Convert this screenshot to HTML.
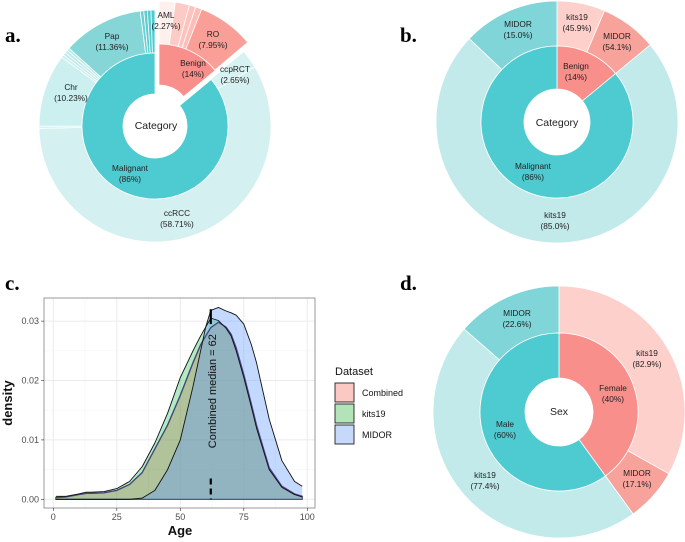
<!DOCTYPE html>
<html><head><meta charset="utf-8">
<style>
body{margin:0;background:#fff;}
svg{display:block;font-family:"Liberation Sans",sans-serif;}
.pl{font-family:"Liberation Serif",serif;font-weight:bold;font-size:21px;}
.lb{font-size:8.3px;fill:#222;text-anchor:middle;}
</style></head><body>
<svg id="fig" width="685" height="542" viewBox="0 0 685 542">
<text class="pl" x="5" y="42">a.</text>
<text class="pl" x="400" y="42">b.</text>
<text class="pl" x="5" y="290">c.</text>
<text class="pl" x="400" y="290">d.</text>
<g id="pa"></g>
<g id="pb"></g>
<g id="pd"></g>
<g id="pc"></g>
</svg>
<script>
const NS="http://www.w3.org/2000/svg";
// ---- panel a data
const aInnerLabels=["Benign","Malignant"];
const aInnerValues=[14,86];
const aOuterValues=[2.27,2.0,0.9,0.88,7.95,2.65,58.71,0.3,10.23,0.4,0.4,0.4,0.4,11.36,0.5,0.5,0.5,0.56];
const aOuterGroup=[0,0,0,0,0,1,1,1,1,1,1,1,1,1,1,1,1,1];
const aOuterColors=["#FFF0EE","#FDCBC6","#FDC3BE","#FDBDB8","#FA9F98","#D7F2F2","#D5F0F1","#CBEEEF","#CCEFEF","#CBEEEF","#BDE9EA","#BDE9EA","#BDE9EA","#86D6D8","#6FD0D3","#5ECDD1","#55CBD0","#4ECBD0"];
// ---- panel b data
const bInnerValues=[14,86];
const bOuterValues=[14*0.459,14*0.541,86*0.85,86*0.15];
// ---- panel d data
const dInnerValues=[40,60];
const dOuterValues=[40*0.829,40*0.171,60*0.774,60*0.226];
// ---- panel c data
const ages=[1,5,10,13,15,20,25,30,35,40,45,50,55,58,60,62,65,68,70,72,75,78,80,85,90,95,98];
const kits19=[0.0005,0.0005,0.0009,0.0012,0.0012,0.0013,0.0018,0.003,0.0055,0.0095,0.0145,0.0205,0.025,0.0275,0.029,0.0305,0.0301,0.0288,0.0275,0.025,0.0205,0.0155,0.012,0.005,0.002,0.0008,0.0004];
const combined=[0.0003,0.0004,0.0008,0.001,0.001,0.0011,0.0015,0.0025,0.0045,0.0085,0.0125,0.0175,0.023,0.026,0.0275,0.0289,0.0298,0.029,0.0278,0.0255,0.021,0.016,0.0125,0.0053,0.0022,0.0009,0.0005];
const midor=[0,0,0,0,0,0,0,0,0.0002,0.0015,0.005,0.01,0.019,0.025,0.029,0.0318,0.0323,0.0317,0.0314,0.031,0.0295,0.026,0.023,0.0135,0.0065,0.003,0.0022];
const xTicks=[0,25,50,75,100];
const yTicks=[0,0.01,0.02,0.03];
const yTickLabels=["0.00","0.01","0.02","0.03"];
const median=62;

function arcPath(cx,cy,r0,r1,a0,a1){
  const p=(r,a)=>[cx+r*Math.sin(a),cy-r*Math.cos(a)];
  const lg=(a1-a0)>Math.PI?1:0;
  const [x0,y0]=p(r1,a0),[x1,y1]=p(r1,a1),[x2,y2]=p(r0,a1),[x3,y3]=p(r0,a0);
  return `M${x0},${y0}A${r1},${r1} 0 ${lg} 1 ${x1},${y1}L${x2},${y2}A${r0},${r0} 0 ${lg} 0 ${x3},${y3}Z`;
}
function ring(g,cx,cy,r0,r1,vals,colors,name,offsets){
  const tot=vals.reduce((a,b)=>a+b,0);let a=0;
  vals.forEach((v,i)=>{
    const a0=a/tot*2*Math.PI,a1=(a+v)/tot*2*Math.PI;a+=v;
    const o=offsets?offsets[i]:[0,0];
    const p=document.createElementNS(NS,"path");
    p.setAttribute("d",arcPath(cx+o[0],cy+o[1],r0,r1,a0,a1));
    p.setAttribute("fill",colors[i]);p.setAttribute("stroke","#fff");p.setAttribute("stroke-width","0.8");
    
    
    g.appendChild(p);
  });
}
function labels(g,list,big){
  list.forEach(([t1,t2,x,y],i)=>{
    const t=document.createElementNS(NS,"text");
    t.setAttribute("class","lb");t.setAttribute("x",x);t.setAttribute("y",y);
    if(big){t.setAttribute("style","font-size:10.5px");t.setAttribute("dominant-baseline","middle");}
    t.textContent=t1;
    
    
    g.appendChild(t);
    if(t2){const u=document.createElementNS(NS,"text");u.setAttribute("class","lb");u.setAttribute("x",x);u.setAttribute("y",y+11);u.textContent=t2;
    
    
    g.appendChild(u);}
  });
}
// panel a
(function(){
  const g=document.getElementById("pa"),cx=155,cy=126,off=[4,-9];
  ring(g,cx,cy,73,116,aOuterValues,aOuterColors,"subtype-slice",aOuterGroup.map(k=>k===0?off:[0,0]));
  ring(g,cx,cy,32,73,aInnerValues,["#F88F8A","#4ECBD0"],"category-slice",[off,[0,0]]);
  labels(g,[["AML","(2.27%)",166,18],["RO","(7.95%)",213,37],["Benign","(14%)",193,66],["ccpRCT","(2.65%)",235,72],["Pap","(11.36%)",112,39],["Chr","(10.23%)",71,90],["Malignant","(86%)",130,171],["ccRCC","(58.71%)",177,216]]);
  labels(g,[["Category",null,156,126]],true);
})();
// panel b
(function(){
  const g=document.getElementById("pb"),cx=557,cy=122;
  ring(g,cx,cy,76,121,bOuterValues,["#FDD0CB","#F8A29C","#C3EAEB","#7FD5D7"],"dataset-slice");
  ring(g,cx,cy,33,76,bInnerValues,["#F88F8A","#4ECBD0"],"category-slice");
  labels(g,[["MIDOR","(15.0%)",518,27],["kits19","(45.9%)",577,20],["MIDOR","(54.1%)",617,39],["Benign","(14%)",576,69],["Malignant","(86%)",533,169],["kits19","(85.0%)",555,218]]);
  labels(g,[["Category",null,557,123]],true);
})();
// panel d
(function(){
  const g=document.getElementById("pd"),cx=559,cy=412;
  ring(g,cx,cy,79,126,dOuterValues,["#FDD0CB","#F8A29C","#C3EAEB","#7FD5D7"],"dataset-slice");
  ring(g,cx,cy,34,79,dInnerValues,["#F88F8A","#4ECBD0"],"sex-slice");
  labels(g,[["MIDOR","(22.6%)",517,316],["kits19","(82.9%)",647,356],["Female","(40%)",613,391],["Male","(60%)",505,427],["kits19","(77.4%)",485,478],["MIDOR","(17.1%)",637,476]]);
  labels(g,[["Sex",null,559,412]],true);
})();
// panel c
(function(){
  const g=document.getElementById("pc");
  const L=44,R=315,T=298,B=508;
  const X=v=>53.3+v*2.54, Y=v=>499.3-v*5940;
  let h=`<rect x="${L}" y="${T}" width="${R-L}" height="${B-T}" fill="#fff"/>`;
  [12.5,37.5,62.5,87.5].forEach(v=>h+=`<line x1="${X(v)}" x2="${X(v)}" y1="${T}" y2="${B}" stroke="#F4F4F4" stroke-width="0.6"/>`);
  [0.005,0.015,0.025].forEach(v=>h+=`<line x1="${L}" x2="${R}" y1="${Y(v)}" y2="${Y(v)}" stroke="#F4F4F4" stroke-width="0.6"/>`);
  xTicks.forEach(v=>h+=`<line x1="${X(v)}" x2="${X(v)}" y1="${T}" y2="${B}" stroke="#EBEBEB" stroke-width="1"/>`);
  yTicks.forEach(v=>h+=`<line x1="${L}" x2="${R}" y1="${Y(v)}" y2="${Y(v)}" stroke="#EBEBEB" stroke-width="1"/>`);
  const area=(vals)=>{let d=`M${X(ages[0])},${Y(0)}`;ages.forEach((a,i)=>d+=`L${X(a)},${Y(vals[i])}`);return d+`L${X(ages[ages.length-1])},${Y(0)}Z`;};
  const line=(vals)=>{let d="";ages.forEach((a,i)=>d+=(i?"L":"M")+X(a)+","+Y(vals[i]));return d;};
  h+=`<path d="${area(combined)}" fill="#F8766D" fill-opacity="0.4" stroke="#6a3f7a" stroke-width="1.4" stroke-linejoin="round"/>`;
  h+=`<path d="${area(kits19)}" fill="#00BA38" fill-opacity="0.3" stroke="none"/>`;
  h+=`<path d="${area(midor)}" fill="#619CFF" fill-opacity="0.38" stroke="none"/>`;
  h+=`<path d="${line(combined)}" fill="none" stroke="#4a3f8a" stroke-width="1" stroke-linejoin="round"/>`;
  h+=`<path d="${line(kits19)}" fill="none" stroke="#111" stroke-width="0.9" stroke-linejoin="round"/>`;
  h+=`<path d="${line(midor)}" fill="none" stroke="#111" stroke-width="0.9" stroke-linejoin="round"/>`;
  h+=`<line x1="${X(median)}" x2="${X(median)}" y1="${Y(0.032)}" y2="${Y(0.0295)}" stroke="#000" stroke-width="2.2"/>`;
  h+=`<line x1="${X(median)}" x2="${X(median)}" y1="${Y(0.0035)}" y2="${Y(0)}" stroke="#000" stroke-width="2.2" stroke-dasharray="6,4"/>`;
  h+=`<text transform="translate(${X(median)+5},${Y(0.0182)}) rotate(-90)" text-anchor="middle" font-size="11" fill="#111">Combined median = ${median}</text>`;
  h+=`<rect x="${L}" y="${T}" width="${R-L}" height="${B-T}" fill="none" stroke="#7f7f7f" stroke-width="0.8"/>`;
  xTicks.forEach(v=>h+=`<line x1="${X(v)}" x2="${X(v)}" y1="${B}" y2="${B+3}" stroke="#333" stroke-width="0.6"/><text x="${X(v)}" y="${B+12}" text-anchor="middle" font-size="9" fill="#4d4d4d">${v}</text>`);
  yTicks.forEach((v,i)=>h+=`<line x1="${L-3}" x2="${L}" y1="${Y(v)}" y2="${Y(v)}" stroke="#333" stroke-width="0.6"/><text x="${L-5}" y="${Y(v)+3}" text-anchor="end" font-size="9" fill="#4d4d4d">${yTickLabels[i]}</text>`);
  h+=`<text x="180" y="535" text-anchor="middle" font-size="13" font-weight="bold" fill="#111">Age</text>`;
  h+=`<text transform="translate(12,403) rotate(-90)" text-anchor="middle" font-size="13" font-weight="bold" fill="#111">density</text>`;
  h+=`<text x="335" y="375" font-size="11" fill="#111">Dataset</text>`;
  [["Combined","#FCC8C4"],["kits19","#B2E3B9"],["MIDOR","#C6D9FB"]].forEach(([n,c],i)=>{
    h+=`<rect x="335" y="${383+i*21}" width="19" height="19" fill="${c}" stroke="#222" stroke-width="0.9"/><text x="362" y="${396+i*21}" font-size="9" fill="#111">${n}</text>`;
  });
  g.innerHTML=h;
})();
</script>
</body></html>
